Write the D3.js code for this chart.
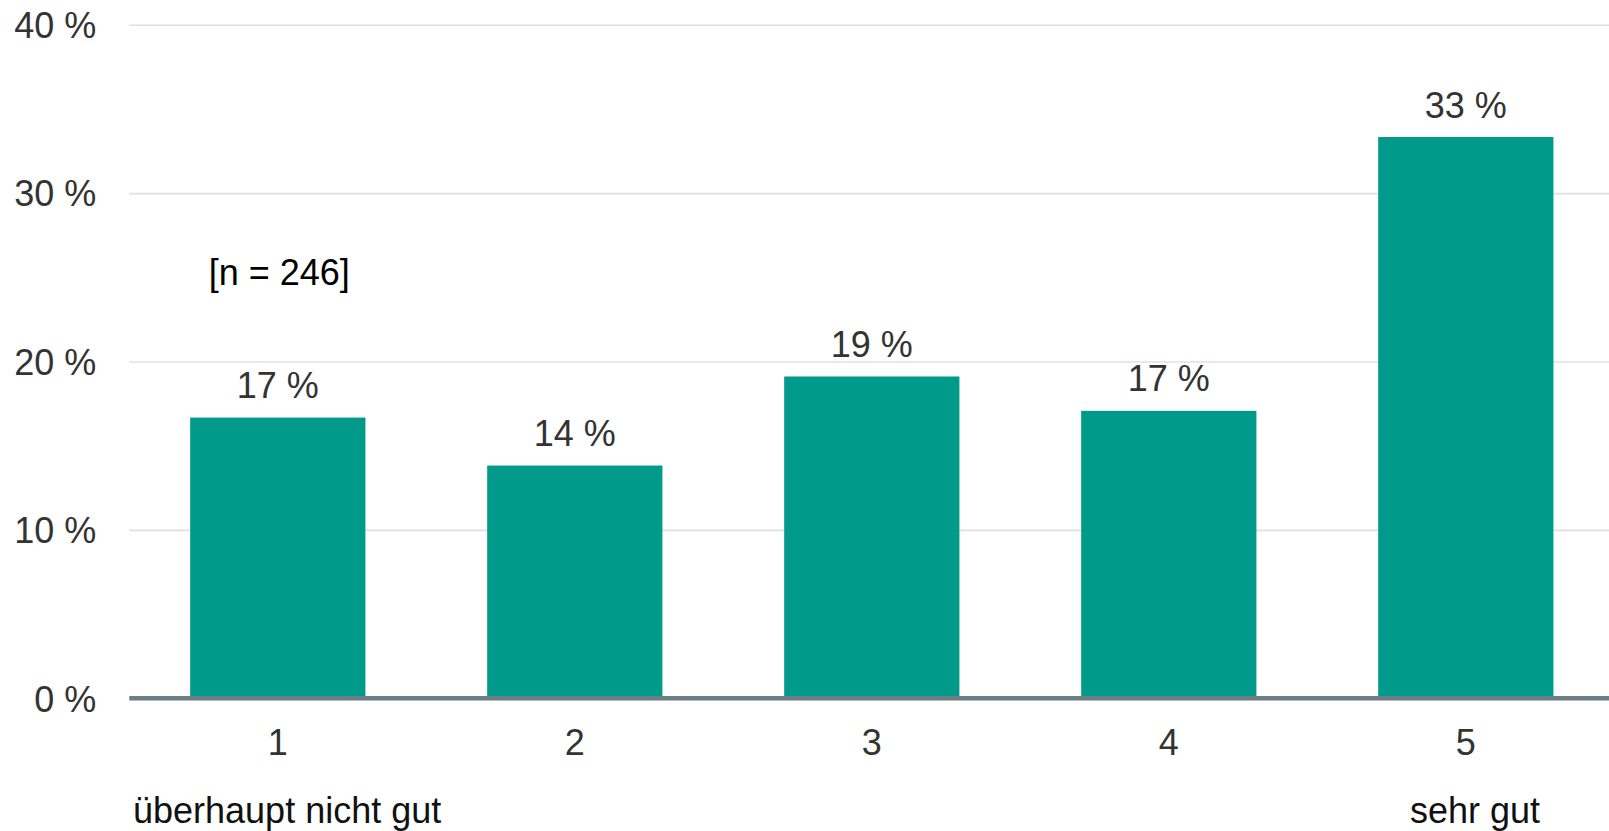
<!DOCTYPE html>
<html>
<head>
<meta charset="utf-8">
<script src="https://cdn.jsdelivr.net/npm/d3@7"></script>
<style>
  html, body { margin: 0; padding: 0; background: #fff; }
  svg { display: block; }
  text { font-family: "Liberation Sans", Arial, sans-serif; }
</style>
</head>
<body>
<svg id="chart" width="1609" height="831"></svg>
<script>
const categories = ["1", "2", "3", "4", "5"];
const values = [16.67, 13.82, 19.11, 17.07, 33.33];
const valueLabels = ["17 %", "14 %", "19 %", "17 %", "33 %"];
const yTicks = [0, 10, 20, 30, 40];
const endLabels = ["überhaupt nicht gut", "sehr gut"];
const sampleNote = "[n = 246]";

(function () {
const W = 1609, H = 831;
const plotLeft = 129.3, plotTop = 24.7, plotBottom = 698.3, bandRight = 1614.3;

const svg = d3.select("#chart");

const x = d3.scaleBand().domain(categories).range([plotLeft, bandRight])
  .paddingInner(0.41).paddingOuter(0.205);
const y = d3.scaleLinear().domain([0, 40]).range([plotBottom, plotTop]);

// y axis with gridlines
const yAxis = svg.append("g")
  .attr("transform", `translate(${plotLeft},0)`)
  .call(d3.axisLeft(y).tickValues(yTicks).tickFormat(d => d + " %")
    .tickSize(-(W - plotLeft)).tickPadding(33));
yAxis.select(".domain").remove();
yAxis.selectAll(".tick line").attr("stroke", "#e0e0e0").attr("stroke-width", 1.6);
yAxis.selectAll(".tick text")
  .attr("font-size", 36).attr("fill", "#333333")
  .attr("font-family", "Liberation Sans, Arial, sans-serif")
  .attr("dy", "0.358em");

// bars
svg.append("g").selectAll("rect").data(values).join("rect")
  .attr("x", (d, i) => x(categories[i]))
  .attr("width", x.bandwidth())
  .attr("y", d => y(d))
  .attr("height", d => y(0) - y(d))
  .attr("fill", "#009a8a");

// value labels
svg.append("g").selectAll("text").data(values).join("text")
  .attr("x", (d, i) => x(categories[i]) + x.bandwidth() / 2)
  .attr("y", d => y(d) - 19.4)
  .attr("text-anchor", "middle")
  .attr("font-size", 36).attr("fill", "#333333")
  .text((d, i) => valueLabels[i]);

// x axis labels
const xAxis = svg.append("g")
  .attr("transform", `translate(0,${plotBottom})`)
  .call(d3.axisBottom(x).tickSize(0).tickPadding(0));
xAxis.select(".domain").remove();
xAxis.selectAll(".tick text")
  .attr("font-size", 36).attr("fill", "#333333")
  .attr("font-family", "Liberation Sans, Arial, sans-serif")
  .attr("y", 56.7).attr("dy", 0);

// baseline
svg.append("line")
  .attr("x1", plotLeft).attr("x2", W)
  .attr("y1", y(0)).attr("y2", y(0))
  .attr("stroke", "#6f7d86").attr("stroke-width", 4.5);

// end labels
svg.append("text")
  .attr("x", 133).attr("y", 823)
  .attr("font-size", 36).attr("fill", "#111111")
  .text(endLabels[0]);
svg.append("text")
  .attr("x", 1540).attr("y", 823)
  .attr("text-anchor", "end")
  .attr("font-size", 36).attr("fill", "#111111")
  .text(endLabels[1]);

// sample size note
svg.append("text")
  .attr("x", x(categories[0]) + x.bandwidth() / 2 + 1.5).attr("y", 285)
  .attr("text-anchor", "middle")
  .attr("font-size", 36).attr("fill", "#000000")
  .text(sampleNote);
})();
</script>
</body>
</html>
